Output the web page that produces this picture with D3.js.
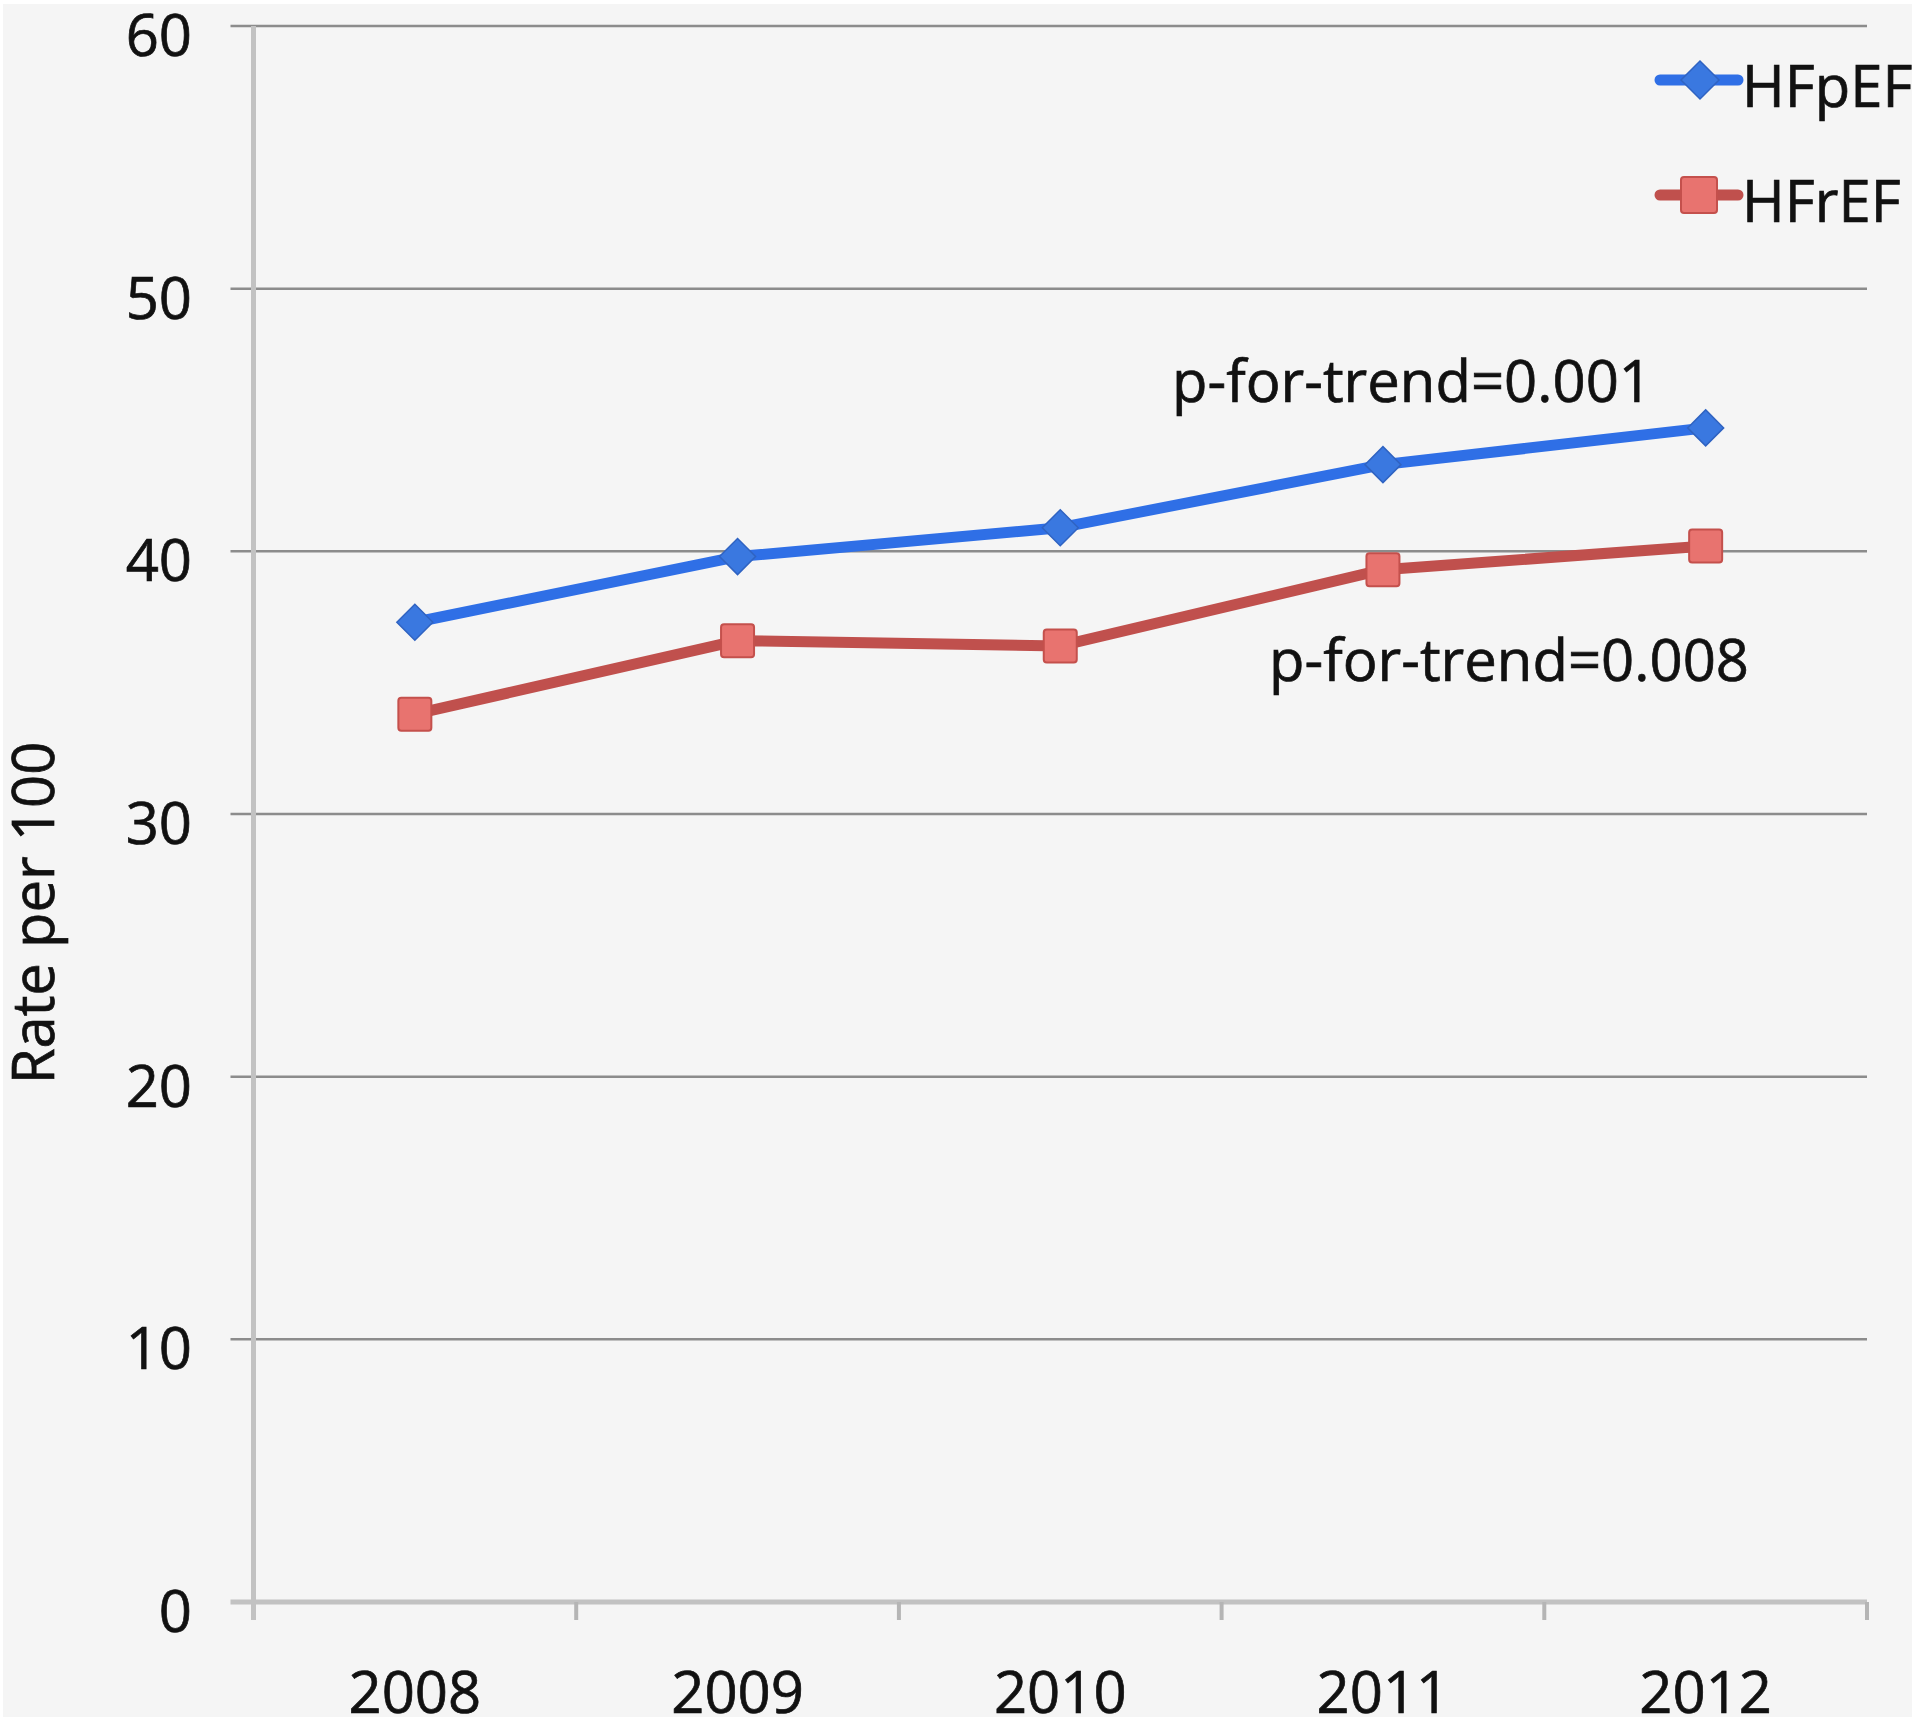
<!DOCTYPE html>
<html>
<head>
<meta charset="utf-8">
<script src="https://cdn.jsdelivr.net/npm/d3@7"></script>
<style>
  html, body { margin: 0; padding: 0; background: #ffffff; }
  svg { display: block; }
  text { font-family: "Open Sans", "Noto Sans", sans-serif; fill: #111; stroke: #111; stroke-width: 0.7px; }
</style>
</head>
<body>
<svg id="chart" width="1920" height="1729"></svg>
<script>
// ---- data ----
const years = ["2008", "2009", "2010", "2011", "2012"];
const hfpef = [37.3, 39.8, 40.9, 43.3, 44.7];
const hfref = [33.8, 36.6, 36.4, 39.3, 40.2];
const yTicks = [0, 10, 20, 30, 40, 50, 60];
const seriesNames = ["HFpEF", "HFrEF"];
const annotations = ["p-for-trend=0.001", "p-for-trend=0.008"];
const yTitle = "Rate per 100";

(function () {
// ---- layout ----
const pLeft = 253.5, pRight = 1867, pTop = 26, pBottom = 1602;
const FS = 58;
const svg = d3.select("#chart");

svg.append("rect").attr("x", 3).attr("y", 4).attr("width", 1909).attr("height", 1713).attr("fill", "#f5f5f5");

const x = d3.scaleBand().domain(years).range([pLeft, pRight]);
const y = d3.scaleLinear().domain([0, 60]).range([pBottom, pTop]);

// gridlines
svg.append("g").selectAll("line").data(yTicks.filter(d => d > 0)).join("line")
  .attr("x1", pLeft - 23).attr("x2", pRight)
  .attr("y1", d => y(d)).attr("y2", d => y(d))
  .attr("stroke", "#8c8c8c").attr("stroke-width", 2.5);

// y axis line
svg.append("line").attr("x1", pLeft).attr("x2", pLeft).attr("y1", pTop).attr("y2", pBottom + 18)
  .attr("stroke", "#c2c2c2").attr("stroke-width", 5);
// x axis line
svg.append("line").attr("x1", pLeft - 23).attr("x2", pRight).attr("y1", pBottom).attr("y2", pBottom)
  .attr("stroke", "#c2c2c2").attr("stroke-width", 5);
// x ticks at band boundaries
const bounds = years.map(d => x(d)).concat([x(years[years.length - 1]) + x.bandwidth()]);
svg.append("g").selectAll("line").data(bounds.slice(1)).join("line")
  .attr("x1", d => d).attr("x2", d => d).attr("y1", pBottom).attr("y2", pBottom + 18)
  .attr("stroke", "#b5b5b5").attr("stroke-width", 4);

// y tick labels
svg.append("g").selectAll("text").data(yTicks).join("text")
  .attr("x", 192).attr("y", d => y(d) + 30)
  .attr("text-anchor", "end").attr("font-size", FS)
  .text(d => d);

// x tick labels
svg.append("g").selectAll("text").data(years).join("text")
  .attr("x", d => x(d) + x.bandwidth() / 2).attr("y", 1713)
  .attr("text-anchor", "middle").attr("font-size", FS)
  .text(d => d);

// y title
svg.append("text")
  .attr("transform", "translate(54,913) rotate(-90)")
  .attr("text-anchor", "middle").attr("font-size", FS)
  .text(yTitle);

// lines
const cx = d => x(d) + x.bandwidth() / 2;
const line = d3.line().x((d, i) => cx(years[i])).y(d => y(d));

const blue = "#2f6fe6", red = "#c0504d";
svg.append("path").datum(hfpef).attr("d", line).attr("fill", "none")
  .attr("stroke", blue).attr("stroke-width", 11).attr("stroke-linejoin", "round");
svg.append("path").datum(hfref).attr("d", line).attr("fill", "none")
  .attr("stroke", red).attr("stroke-width", 11).attr("stroke-linejoin", "round");

function diamond(g, px, py, r) {
  g.append("path")
    .attr("d", `M${px},${py - r}L${px + r},${py}L${px},${py + r}L${px - r},${py}Z`)
    .attr("fill", "#3a78e0").attr("stroke", "#2f63c2").attr("stroke-width", 1.5);
}
function square(g, px, py, s) {
  g.append("rect").attr("x", px - s / 2).attr("y", py - s / 2).attr("width", s).attr("height", s)
    .attr("rx", 3).attr("fill", "#e8736f").attr("stroke", "#c4504c").attr("stroke-width", 2);
}

const mk = svg.append("g");
hfpef.forEach((v, i) => diamond(mk, cx(years[i]), y(v), 18));
hfref.forEach((v, i) => square(mk, cx(years[i]), y(v), 33));

// legend
const lg = svg.append("g");
lg.append("line").attr("x1", 1660).attr("x2", 1738).attr("y1", 80).attr("y2", 80)
  .attr("stroke", blue).attr("stroke-width", 11).attr("stroke-linecap", "round");
diamond(lg, 1700, 80, 19);
lg.append("text").attr("x", 1742).attr("y", 107).attr("font-size", FS).text(seriesNames[0]);
lg.append("line").attr("x1", 1660).attr("x2", 1738).attr("y1", 195).attr("y2", 195)
  .attr("stroke", red).attr("stroke-width", 11).attr("stroke-linecap", "round");
square(lg, 1699, 195, 36);
lg.append("text").attr("x", 1742).attr("y", 222).attr("font-size", FS).text(seriesNames[1]);

// annotations
svg.append("text").attr("x", 1172).attr("y", 402).attr("font-size", FS).text(annotations[0]);
svg.append("text").attr("x", 1269).attr("y", 681).attr("font-size", FS).text(annotations[1]);
})();
</script>
</body>
</html>
